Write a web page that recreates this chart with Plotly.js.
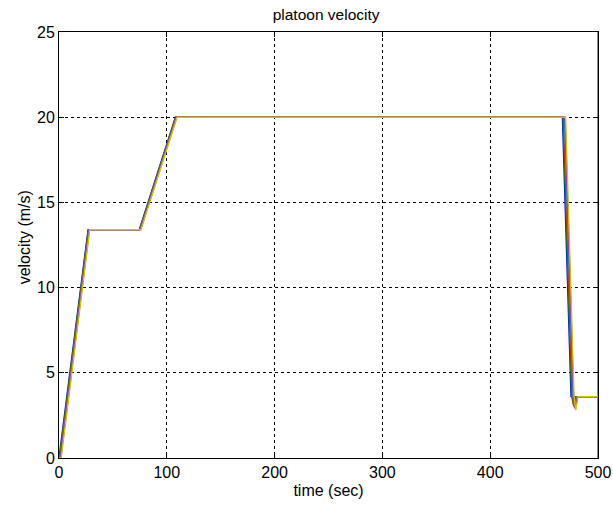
<!DOCTYPE html>
<html>
<head>
<meta charset="utf-8">
<script src="https://cdn.plot.ly/plotly-3.0.1.min.js"></script>
<style>html,body{margin:0;padding:0;background:#fff;}#chart{width:613px;height:510px;}</style>
</head>
<body>
<div id="chart"></div>
<script>
// Vehicle time/velocity samples
const time1 = [0, 27, 74.5, 108, 467, 475, 500];
const vel1  = [0, 13.4, 13.4, 20, 20, 3.6, 3.6];
const time2 = [0, 0.4, 27.3, 74.8, 108.3, 467.6, 475.6, 477.2, 479.5, 500];
const vel2  = [0, 0, 13.4, 13.4, 20, 20, 3.6, 3.1, 3.6, 3.6];
const time3 = [0, 0.8, 27.6, 75.1, 108.6, 468.2, 476.2, 477.8, 480, 500];
const vel3  = [0, 0, 13.4, 13.4, 20, 20, 3.6, 3.0, 3.6, 3.6];
const time4 = [0, 1.2, 27.9, 75.4, 108.9, 468.8, 476.8, 478.3, 480.5, 500];
const vel4  = [0, 0, 13.4, 13.4, 20, 20, 3.6, 2.95, 3.6, 3.6];
const time5 = [0, 1.6, 28.2, 75.7, 109.2, 469.4, 477.3, 478.8, 481, 500];
const vel5  = [0, 0, 13.4, 13.4, 20, 20, 3.6, 2.9, 3.6, 3.6];
const time6 = [0, 2.0, 28.5, 76.0, 109.5, 470, 477.8, 479.3, 481.5, 500];
const vel6  = [0, 0, 13.4, 13.4, 20, 20, 3.6, 2.8, 3.6, 3.6];

const xTicks = [0, 100, 200, 300, 400, 500];
const yTicks = [0, 5, 10, 15, 20, 25];

const series = [
  {x: time1, y: vel1, c: '#0000ff'},
  {x: time2, y: vel2, c: '#00a000'},
  {x: time3, y: vel3, c: '#ff0000'},
  {x: time4, y: vel4, c: '#00bfbf'},
  {x: time5, y: vel5, c: '#bf00bf'},
  {x: time6, y: vel6, c: '#c8c800'}
];

const traces = series.map(s => ({
  x: s.x, y: s.y, type: 'scatter', mode: 'lines',
  line: {color: s.c, width: 1.4}, hoverinfo: 'skip', showlegend: false
}));

const fontFam = 'Liberation Sans, Arial, sans-serif';
const layout = {
  width: 613, height: 510,
  margin: {l: 58.7, r: 14.7, t: 32.3, b: 51.7},
  paper_bgcolor: '#ffffff', plot_bgcolor: '#ffffff',
  font: {family: fontFam, size: 16, color: '#000'},
  title: {text: 'platoon velocity', x: 0.532, xanchor: 'center', y: 0.983, yanchor: 'top', font: {family: fontFam, size: 15.5, color: '#000'}},
  xaxis: {
    range: [0, 500], tickvals: xTicks, ticktext: xTicks.map(String),
    showgrid: true, gridcolor: '#000', griddash: '3px,3px', gridwidth: 1,
    showline: true, linecolor: '#000', linewidth: 1, mirror: 'ticks',
    ticks: 'inside', ticklen: 5, tickcolor: '#000', zeroline: false,
    tickfont: {size: 16},
    title: {text: 'time (sec)', font: {size: 16}, standoff: 4}
  },
  yaxis: {
    range: [0, 25], tickvals: yTicks, ticktext: yTicks.map(String),
    showgrid: true, gridcolor: '#000', griddash: '3px,3px', gridwidth: 1,
    showline: true, linecolor: '#000', linewidth: 1, mirror: 'ticks',
    ticks: 'inside', ticklen: 5, tickcolor: '#000', zeroline: false,
    tickfont: {size: 16}
  },
  annotations: [{
    text: 'velocity (m/s)', xref: 'paper', yref: 'paper', x: 0, y: 0.518,
    xanchor: 'center', yanchor: 'middle', xshift: -35, textangle: -90,
    showarrow: false, font: {family: fontFam, size: 16, color: '#000'}
  }],
  shapes: [{
    type: 'line', xref: 'paper', yref: 'paper', x0: 1, x1: 1, y0: 0, y1: 1,
    line: {color: '#8a8a8a', width: 2}, layer: 'below'
  }]
};

Plotly.newPlot('chart', traces, layout, {displayModeBar: false, staticPlot: true});
</script>
</body>
</html>
